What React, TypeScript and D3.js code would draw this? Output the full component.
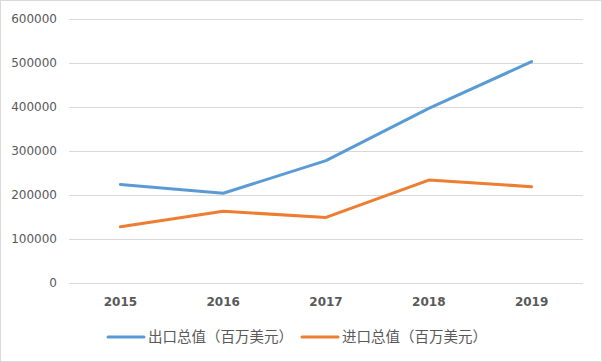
import { useEffect, useRef } from "react";
import * as d3 from "d3";

const years = ["2015", "2016", "2017", "2018", "2019"];
const exportValues = [224000, 204000, 278000, 397000, 503000];
const importValues = [128000, 163000, 149000, 234000, 219000];
const yTicks = [0, 100000, 200000, 300000, 400000, 500000, 600000];
const seriesNames = ["出口总值（百万美元）", "进口总值（百万美元）"];
const seriesColors = ["#5B9BD5", "#ED7D31"];

export default function App() {
  const ref = useRef<SVGSVGElement | null>(null);
  const width = 602;
  const height = 362;
  const margin = { top: 19, right: 19, bottom: 79, left: 69 };

  useEffect(() => {
    document.body.style.margin = "0";
    const svg = d3.select(ref.current);
    svg.selectAll("*").remove();

    const x = d3.scaleBand()
      .domain(years)
      .range([margin.left, width - margin.right]);

    const y = d3.scaleLinear()
      .domain([0, 600000])
      .range([height - margin.bottom, margin.top]);

    // chart border
    svg.append("rect")
      .attr("x", 0.5)
      .attr("y", 0.5)
      .attr("width", width - 1)
      .attr("height", height - 1)
      .attr("fill", "#fff")
      .attr("stroke", "#d9d9d9");

    // gridlines
    svg.append("g")
      .selectAll("line")
      .data(yTicks)
      .join("line")
      .attr("x1", margin.left)
      .attr("x2", width - margin.right)
      .attr("y1", d => Math.round(y(d)) + 0.5)
      .attr("y2", d => Math.round(y(d)) + 0.5)
      .attr("stroke", "#d9d9d9")
      .attr("stroke-width", 1);

    // y labels
    svg.append("g")
      .selectAll("text")
      .data(yTicks)
      .join("text")
      .attr("x", 57)
      .attr("y", d => y(d))
      .attr("dy", "0.35em")
      .attr("text-anchor", "end")
      .attr("font-family", "DejaVu Sans, sans-serif")
      .attr("font-size", 12)
      .attr("fill", "#595959")
      .text(d => String(d));

    // x labels
    svg.append("g")
      .selectAll("text")
      .data(years)
      .join("text")
      .attr("x", d => (x(d) as number) + x.bandwidth() / 2)
      .attr("y", 302)
      .attr("dy", "0.35em")
      .attr("text-anchor", "middle")
      .attr("font-family", "DejaVu Sans, sans-serif")
      .attr("font-size", 12)
      .attr("font-weight", "bold")
      .attr("fill", "#595959")
      .text(d => d);

    const line = d3.line<number>()
      .x((_, i) => (x(years[i]) as number) + x.bandwidth() / 2)
      .y(d => y(d));

    [exportValues, importValues].forEach((vals, i) => {
      svg.append("path")
        .datum(vals)
        .attr("fill", "none")
        .attr("stroke", seriesColors[i])
        .attr("stroke-width", 3)
        .attr("stroke-linecap", "round")
        .attr("stroke-linejoin", "round")
        .attr("d", line);
    });

    // legend
    const legendX = [108, 302];
    seriesNames.forEach((name, i) => {
      const g = svg.append("g").attr("transform", `translate(${legendX[i]},337)`);
      g.append("line")
        .attr("x1", 0)
        .attr("x2", 36)
        .attr("stroke", seriesColors[i])
        .attr("stroke-width", 3)
        .attr("stroke-linecap", "round");
      g.append("text")
        .attr("x", 40)
        .attr("dy", "0.35em")
        .attr("font-family", "Noto Sans CJK SC, sans-serif")
        .attr("font-size", 14.5)
        .attr("fill", "#595959")
        .text(name);
    });
  }, []);

  return (
    <svg
      ref={ref}
      width={width}
      height={height}
      style={{ position: "absolute", left: 0, top: 0, display: "block" }}
    />
  );
}
